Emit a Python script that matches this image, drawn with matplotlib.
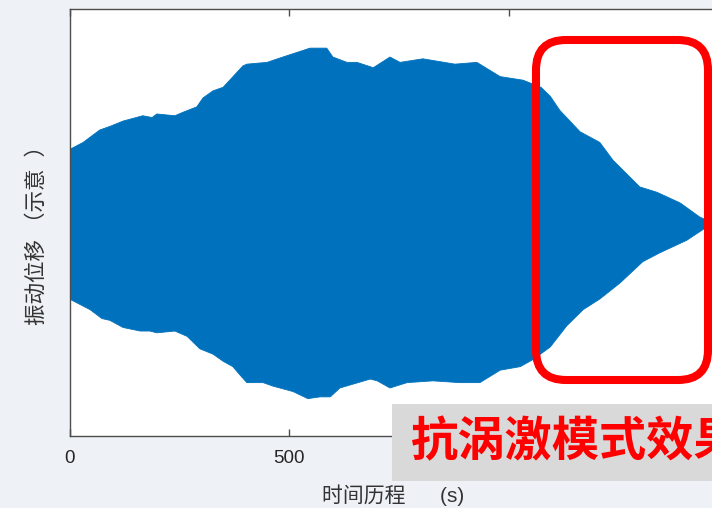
import numpy as np
import matplotlib
matplotlib.use("Agg")
import matplotlib.pyplot as plt
from matplotlib.patches import FancyBboxPatch, Rectangle
from matplotlib.transforms import Affine2D

plt.rcParams['font.family'] = ['Liberation Sans', 'Noto Sans CJK SC', 'DejaVu Sans']

# Upper envelope of the vibration response (time in s, normalised displacement)
t_top = [0, 31, 69, 92, 122, 167, 188, 199, 240, 259, 290, 304, 327, 350, 395, 404,
         450, 486, 548, 586, 600, 632, 655, 692, 730, 753, 805, 878, 928, 981, 1033,
         1074, 1095, 1117, 1163, 1208, 1238, 1299, 1338, 1391, 1436, 1455]
amp_top = [0.41, 0.45, 0.52, 0.54, 0.57, 0.60, 0.59, 0.61, 0.60, 0.62, 0.65, 0.70,
           0.74, 0.76, 0.88, 0.89, 0.90, 0.93, 0.98, 0.98, 0.93, 0.90, 0.90, 0.87,
           0.93, 0.90, 0.92, 0.89, 0.90, 0.82, 0.80, 0.76, 0.71, 0.63, 0.51, 0.45,
           0.35, 0.20, 0.17, 0.11, 0.03, 0.01]

# Lower envelope of the vibration response
t_bot = [0, 47, 74, 92, 122, 161, 183, 199, 240, 268, 297, 327, 350, 372, 393, 404,
         441, 464, 509, 543, 571, 594, 616, 685, 701, 730, 769, 828, 889, 935, 981,
         1027, 1056, 1095, 1133, 1170, 1208, 1254, 1306, 1345, 1406, 1455]
amp_bot = [-0.43, -0.49, -0.54, -0.55, -0.59, -0.61, -0.61, -0.62, -0.61, -0.64,
           -0.71, -0.74, -0.78, -0.81, -0.87, -0.90, -0.90, -0.92, -0.95, -0.99,
           -0.98, -0.98, -0.93, -0.88, -0.89, -0.93, -0.90, -0.89, -0.90, -0.90,
           -0.83, -0.81, -0.77, -0.70, -0.58, -0.49, -0.43, -0.34, -0.22, -0.17,
           -0.10, -0.02]

# the 1000 s label sits under the banner, so only its tick marks show
x_ticks = [0, 500, 1000]
x_tick_labels = ['0', '500', '']

W, H = 712, 508
fig = plt.figure(figsize=(W / 100, H / 100), dpi=100)
fig.patch.set_facecolor('#eef1f6')

ax = fig.add_axes([69.5 / W, 72 / H, 658.5 / W, 427 / H])
ax.set_facecolor('white')

poly_t = np.concatenate([t_top, t_bot[::-1]])
poly_a = np.concatenate([amp_top, amp_bot[::-1]])
ax.fill(poly_t, poly_a, color='#0072BD', lw=0.6, ec='#0072BD')

ax.set_xlim(0, 1500)
ax.set_ylim(-1.2, 1.2)
ax.set_xticks(x_ticks)
ax.set_xticklabels(x_tick_labels)
ax.set_yticks([])
ax.tick_params(axis='x', direction='in', top=True, length=5, width=1,
               color='#4d4d4d', labelcolor='#262626', labelsize=13.5, pad=10)
for s in ax.spines.values():
    s.set_color('#4d4d4d')
    s.set_linewidth(1)

ax.set_xlabel('时间历程      (s)', fontsize=15, color='#333333')
ax.xaxis.label.set_va('center')
ax.xaxis.set_label_coords(0.491, -0.138)
ax.set_ylabel('振动位移 （示意  ）', fontsize=15.5, color='#333333')
ax.yaxis.label.set_va('center')
ax.yaxis.set_label_coords(-0.049, 0.482)

# pixel-based transform for the annotation overlays
px = Affine2D().scale(1 / fig.dpi) + fig.dpi_scale_trans

highlight = FancyBboxPatch((536, 128), 172, 340,
                           boxstyle='round,pad=0,rounding_size=30',
                           fc='none', ec='#ff0000', lw=5.8, transform=px)
fig.add_artist(highlight)

banner = Rectangle((392, 27), 340, 77, fc='#d9d9d9', ec='none', transform=px)
fig.add_artist(banner)
fig.text(411, 65.5, '抗涡激模式效果', transform=px, ha='left', va='center',
         fontsize=34, fontweight='bold', color='#ff0000',
         family=['Noto Sans CJK SC', 'DejaVu Sans'])

fig.savefig('out.png', dpi=100, facecolor=fig.get_facecolor())
